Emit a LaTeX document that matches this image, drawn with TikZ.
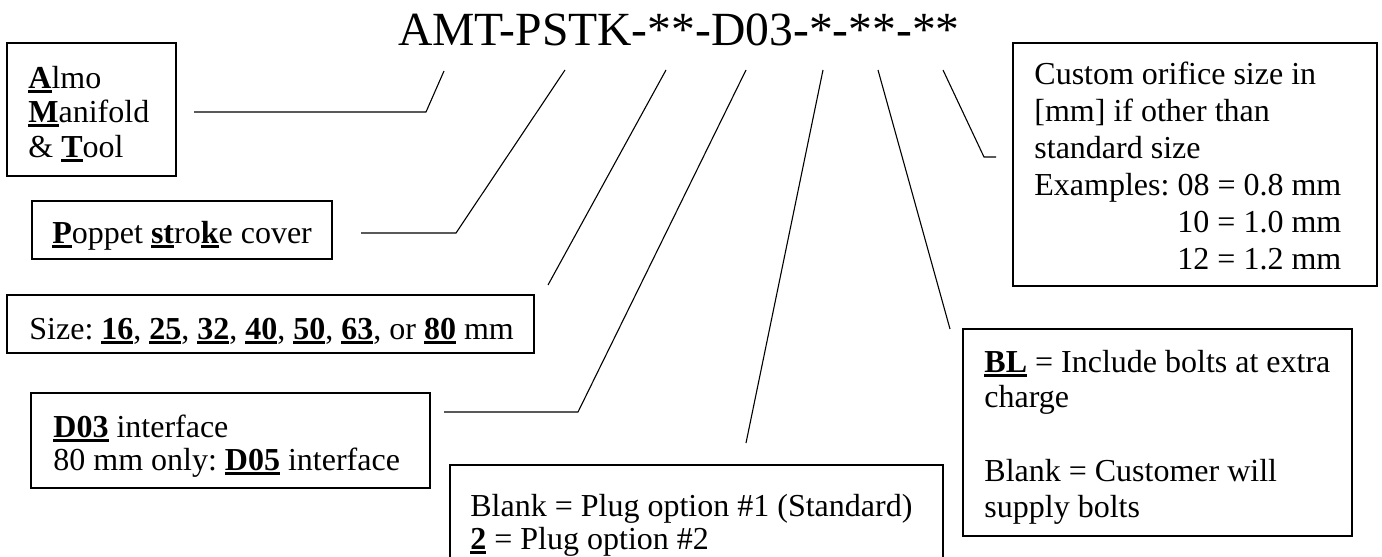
\documentclass[tikz,border=0pt]{standalone}
\usepackage{fontspec}
\setmainfont{Liberation Serif}
\usetikzlibrary{fit}
\frenchspacing
\newcommand\ubf[1]{\setbox0=\hbox{\bfseries #1}\rlap{\rule[-2.3pt]{\wd0}{1.5pt}}\box0\relax}
\begin{document}
\begin{tikzpicture}[x=0.5pt,y=-0.5pt,
  box/.style={draw, line width=0.85pt, inner sep=0pt},
  txt/.style={anchor=base west, inner sep=0pt, font=\fontsize{16}{18}\selectfont\frenchspacing},
  txtr/.style={anchor=base east, inner sep=0pt, font=\fontsize{16}{18}\selectfont\frenchspacing},
  conn/.style={line width=0.55pt}]
\useasboundingbox (0,0) rectangle (1382,557);
\clip (0,0) rectangle (1382,557);

% title
\node[anchor=base, inner sep=0pt, font=\fontsize{23.8}{28}\selectfont] (title) at (679,45) {AMT-PSTK-**-D03-*-**-**};

% boxes
\node[box, fit={(7,43) (176,176)}] (almoBox) {};
\node[box, fit={(32,201) (332,259)}] (popBox) {};
\node[box, fit={(7,295) (534,353)}] (sizeBox) {};
\node[box, fit={(31,393) (430,488)}] (dBox) {};
\node[box, fit={(450,465) (943,565)}] (plugBox) {};
\node[box, fit={(963,329) (1352,536)}] (blBox) {};
\node[box, fit={(1013,43) (1377,286)}] (custBox) {};

% texts
\node[txt] (almoA) at (28,88) {\ubf{A}lmo};
\node[txt] (almoM) at (28,122) {\ubf{M}anifold};
\node[txt] (almoT) at (28,157) {\& \ubf{T}ool};

\node[txt] (pop) at (52,243) {\ubf{P}oppet \ubf{st}ro\ubf{k}e cover};

\node[txt] (size) at (29,339) {Size: \ubf{16}, \ubf{25}, \ubf{32}, \ubf{40}, \ubf{50}, \ubf{63}, or \ubf{80} mm};

\node[txt] (dA) at (53,437) {\ubf{D03} interface};
\node[txt] (dB) at (53,470) {80 mm only: \ubf{D05} interface};

\node[txt] (plugA) at (470,516) {Blank = Plug option \#1 (Standard)};
\node[txt] (plugB) at (470,549) {\ubf{2} = Plug option \#2};

\node[txt] (blA) at (984,372) {\ubf{BL} = Include bolts at extra};
\node[txt] (blB) at (984,407) {charge};
\node[txt] (blC) at (984,481) {Blank = Customer will};
\node[txt] (blD) at (984,517) {supply bolts};

\node[txt] (cuA) at (1034,84) {Custom orifice size in};
\node[txt] (cuB) at (1034,121) {[mm] if other than};
\node[txt] (cuC) at (1034,158) {standard size};
\node[txt] (cuD) at (1034,195) {Examples: 08 = 0.8 mm};
\node[txtr] (cuE) at (cuD.base east |- 0,232) {10 = 1.0 mm};
\node[txtr] (cuF) at (cuD.base east |- 0,269) {12 = 1.2 mm};

% connectors
\coordinate (a1) at (194,112); \coordinate (a2) at (426,112); \coordinate (a3) at (444,71);
\draw[conn] (a1) -- (a2) -- (a3);
\coordinate (p1) at (361,233); \coordinate (p2) at (456,233); \coordinate (p3) at (565,70);
\draw[conn] (p1) -- (p2) -- (p3);
\coordinate (s1) at (548,285); \coordinate (s2) at (666,70);
\draw[conn] (s1) -- (s2);
\coordinate (d1) at (444,412); \coordinate (d2) at (578,412); \coordinate (d3) at (746,70);
\draw[conn] (d1) -- (d2) -- (d3);
\coordinate (g1) at (746,443); \coordinate (g2) at (823,70);
\draw[conn] (g1) -- (g2);
\coordinate (b1) at (950,329); \coordinate (b2) at (878,70);
\draw[conn] (b1) -- (b2);
\coordinate (c1) at (996,157); \coordinate (c2) at (984,157); \coordinate (c3) at (943,70);
\draw[conn] (c1) -- (c2) -- (c3);
\end{tikzpicture}
\end{document}
